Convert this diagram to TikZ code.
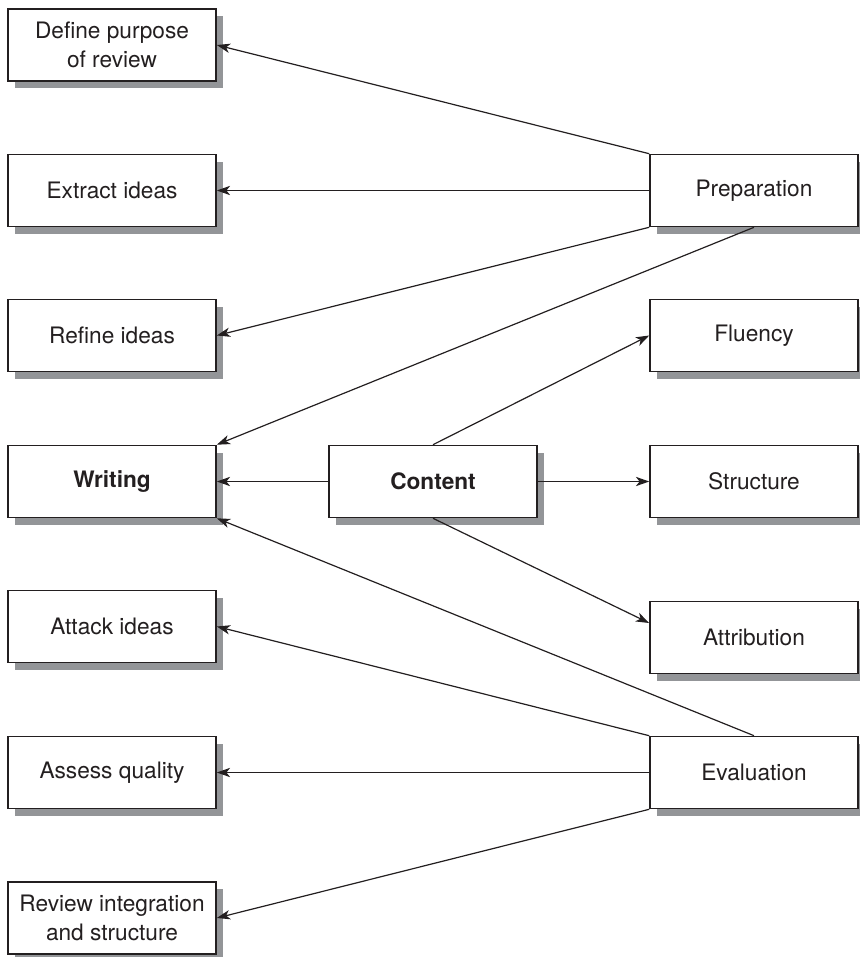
\documentclass[tikz,border=0pt]{standalone}
\usepackage{fontspec}
\setmainfont{TeX Gyre Heros}
\usetikzlibrary{arrows.meta,shadows,calc}
\definecolor{ink}{HTML}{231F20}
\definecolor{shade}{HTML}{939598}
\tikzset{
  box/.style={draw=ink, line width=1.2pt, fill=white, text=ink,
    minimum width=156pt, minimum height=54pt, inner sep=0pt,
    align=center, font=\fontsize{17}{21.5}\selectfont,
    drop shadow={shadow xshift=5.5pt, shadow yshift=-5.5pt,
      fill=shade, opacity=1}},
  link/.style={draw=ink, line width=0.9pt,
    -{Stealth[length=10pt, width=7pt, inset=2.8pt]}}
}
\begin{document}
\begin{tikzpicture}[x=0.75pt, y=-0.75pt]
\useasboundingbox (0,0) rectangle (860,957);

% left column
\node[box] (purpose) at (112,45)    {Define purpose\\of review};
\node[box] (extract) at (112,190.5) {Extract ideas};
\node[box] (refine)  at (112,335.5) {Refine ideas};
\node[box] (writing) at (112,481.5) {\bfseries Writing};
\node[box] (attack)  at (112,626.5) {Attack ideas};
\node[box] (assess)  at (112,772.5) {Assess quality};
\node[box] (review)  at (112,918)   {Review integration\\and structure};

% middle
\node[box] (content) at (433,481.5) {\bfseries Content};

% right column
\node[box] (prep)    at (754,190.5) {Preparation};
\node[box] (fluency) at (754,335.5) {Fluency};
\node[box] (struct)  at (754,481.5) {Structure};
\node[box] (attrib)  at (754,637.5) {Attribution};
\node[box] (eval)    at (754,772.5) {Evaluation};

% preparation branch
\draw[link] (prep.north west) -- (purpose.east);
\draw[link] (prep.west) -- (extract.east);
\draw[link] (prep.south west) -- (refine.east);
\draw[link] (prep.south) -- (writing.north east);

% content branch
\draw[link] (content.west) -- (writing.east);
\draw[link] (content.north) -- (fluency.west);
\draw[link] (content.east) -- (struct.west);
\draw[link] (content.south) -- ($(attrib.west)+(0,-14.5)$);

% evaluation branch
\draw[link] (eval.north) -- (writing.south east);
\draw[link] (eval.north west) -- (attack.east);
\draw[link] (eval.west) -- (assess.east);
\draw[link] (eval.south west) -- (review.east);
\end{tikzpicture}
\end{document}
